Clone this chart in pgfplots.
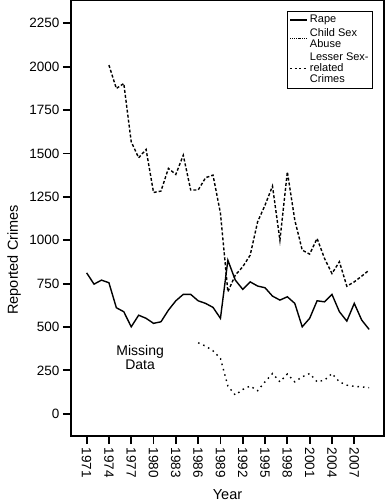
\documentclass[border=0pt]{standalone}
\usepackage{fontspec}
\setmainfont{Liberation Sans}
\usepackage{pgfplots}
\pgfplotsset{compat=1.18}
\begin{document}
\begin{tikzpicture}
\begin{axis}[
  at={(0,0)}, anchor=south west,
  scale only axis, width=313pt, height=436pt,
  xmin=1968.9, xmax=2011, ymin=-128, ymax=2384,
  xtick={1971,1974,...,2007},
  ytick={0,250,...,2250},
  xtick pos=bottom, ytick pos=left,
  tick align=outside, major tick length=8pt,
  every tick/.style={line width=1.8pt, black},
  axis line style={line width=1.8pt},
  /pgf/number format/assume math mode=true,
  /pgf/number format/1000 sep={},
  tick label style={font=\fontsize{13.5}{14}\selectfont},
  xticklabel style={rotate=-90, anchor=west},
  xlabel={Year}, ylabel={Reported Crimes},
  label style={font=\fontsize{14.5}{16}\selectfont},
  xlabel style={at={(axis description cs:0.5,-0.135)}, anchor=center},
  ylabel style={at={(axis description cs:-0.182,0.404)}, anchor=center},
  legend style={at={(rel axis cs:0.965,0.975)}, anchor=north east,
    font=\fontsize{11}{11}\selectfont, draw=black, line width=0.8pt,
    inner sep=2pt, row sep=0pt, cells={anchor=west, align=left}},
  legend cell align=left,
]
\addplot[black, line width=1.4pt] coordinates {
(1971,812)(1972,747)(1973,770)(1974,755)(1975,611)(1976,588)(1977,501)(1978,568)
(1979,550)(1980,521)(1981,530)(1982,597)(1983,651)(1984,688)(1985,688)(1986,651)
(1987,636)(1988,613)(1989,550)(1990,885)(1991,770)(1992,717)(1993,760)(1994,736)
(1995,726)(1996,678)(1997,655)(1998,674)(1999,636)(2000,501)(2001,550)(2002,651)
(2003,645)(2004,688)(2005,588)(2006,534)(2007,636)(2008,540)(2009,486)};
\addlegendentry{Rape}
\addplot[black, line width=1.4pt, dash pattern=on 1.5pt off 4pt,
  legend image post style={dash pattern=on 1pt off 1pt, line width=0.9pt}] coordinates {
(1986,409)(1987,390)(1988,363)(1989,319)(1990,160)(1991,108)(1992,140)(1993,160)
(1994,133)(1995,184)(1996,232)(1997,184)(1998,229)(1999,184)(2000,213)(2001,232)
(2002,184)(2003,194)(2004,232)(2005,184)(2006,165)(2007,158)(2008,155)(2009,150)};
\addlegendentry{Child Sex\\Abuse}
\addplot[black, line width=1.4pt, dash pattern=on 3pt off 2pt,
  legend image post style={dash pattern=on 2pt off 2.5pt, line width=1pt}] coordinates {
(1974,2009)(1975,1874)(1976,1903)(1977,1567)(1978,1475)(1979,1523)(1980,1275)
(1981,1283)(1982,1414)(1983,1379)(1984,1490)(1985,1289)(1986,1289)(1987,1360)
(1988,1375)(1989,1156)(1990,703)(1991,799)(1992,847)(1993,914)(1994,1106)
(1995,1202)(1996,1312)(1997,1000)(1998,1394)(1999,1116)(2000,943)(2001,920)
(2002,1010)(2003,895)(2004,808)(2005,876)(2006,735)(2007,760)(2008,793)(2009,828)};
\addlegendentry{Lesser Sex-\\related\\Crimes}
\node[align=center, font=\fontsize{14}{14}\selectfont] at (axis cs:1978.2,327) {Missing\\Data};
\end{axis}
\pgfresetboundingbox
\path (-71pt,-66pt) rectangle (316pt,436pt);
\end{tikzpicture}
\end{document}
